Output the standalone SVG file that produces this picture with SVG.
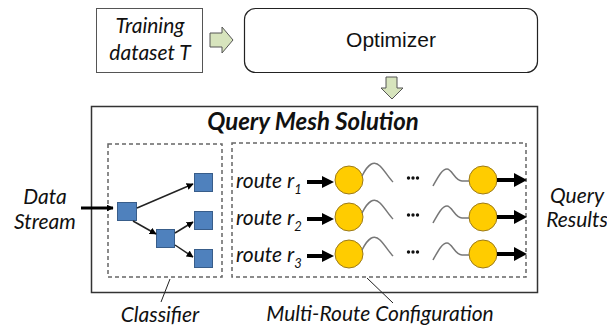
<svg xmlns="http://www.w3.org/2000/svg" width="607" height="328" viewBox="0 0 607 328">
<style>
.cal{font-family:Lato,"Liberation Sans",sans-serif;font-style:italic;fill:#111}
.arial{font-family:"Liberation Sans",Arial,sans-serif;fill:#111}
.dash{fill:none;stroke:#666;stroke-width:1.5;stroke-dasharray:4,3}
.sq{fill:#4f81bd;stroke:#385d8a;stroke-width:1}
.cir{fill:#ffcc00;stroke:#9c7a1a;stroke-width:1}
.wave{fill:none;stroke:#777;stroke-width:1.5}
.thin{stroke:#222;stroke-width:1.5;fill:none}
.thick{stroke:#000;stroke-width:4;fill:none}
.hollow{fill:#d7e4bd;stroke:#555;stroke-width:1}
</style>
<defs>
<marker id="ah" viewBox="0 0 10 10" refX="9" refY="5" markerWidth="7" markerHeight="7" markerUnits="userSpaceOnUse" orient="auto"><path d="M0,0 L10,5 L0,10 z" fill="#000"/></marker>
</defs>
<rect width="607" height="328" fill="#fff"/>
<g id="training">
<rect x="96.5" y="8.5" width="106" height="64" fill="#fff" stroke="#555" stroke-width="1"/>
<text class="cal" x="150" y="33" font-size="21" text-anchor="middle">Training</text>
<text class="cal" x="150" y="60" font-size="21" text-anchor="middle">dataset T</text>
</g>
<g id="optimizer">
<rect x="244.5" y="8.5" width="293" height="64" rx="11" fill="#fff" stroke="#222" stroke-width="1.2"/>
<text class="arial" x="391" y="47" font-size="21" text-anchor="middle">Optimizer</text>
</g>
<g id="solution">
<rect x="91.5" y="106.5" width="446" height="186" fill="#fff" stroke="#333" stroke-width="1.5"/>
<text class="cal" x="313" y="130" font-size="24" font-weight="bold" text-anchor="middle">Query Mesh Solution</text>
</g>
<g id="classifier">
<rect class="dash" x="108" y="144" width="114" height="133"/>
<rect class="sq" x="117.5" y="202.5" width="19" height="18"/>
<rect class="sq" x="194.5" y="173.5" width="18" height="18"/>
<rect class="sq" x="156.5" y="229.5" width="18" height="18"/>
<rect class="sq" x="194.5" y="211.5" width="18" height="18"/>
<rect class="sq" x="194.5" y="249.5" width="18" height="18"/>
</g>
<g id="routes">
<rect class="dash" x="232" y="143" width="294" height="134"/>
<text class="cal" x="236" y="188" font-size="21">route r<tspan font-size="13" dy="6">1</tspan></text>
<text class="cal" x="236" y="225" font-size="21">route r<tspan font-size="13" dy="6">2</tspan></text>
<text class="cal" x="236" y="262" font-size="21">route r<tspan font-size="13" dy="6">3</tspan></text>
<circle class="cir" cx="349" cy="180" r="14"/>
<circle class="cir" cx="349" cy="217" r="14"/>
<circle class="cir" cx="349" cy="254" r="14"/>
<circle class="cir" cx="483" cy="180" r="14"/>
<circle class="cir" cx="483" cy="217" r="14"/>
<circle class="cir" cx="483" cy="254" r="14"/>
<path class="wave" d="M362,176 C368,164 374,160 380,166 C385,171 389,178 393,182 M433,186 C438,177 442,169 447,169 C452,169 455,181 462,181 L469,181"/>
<path class="wave" d="M362,213 C368,201 374,197 380,203 C385,208 389,215 393,219 M433,223 C438,214 442,206 447,206 C452,206 455,218 462,218 L469,218"/>
<path class="wave" d="M362,250 C368,238 374,234 380,240 C385,245 389,252 393,256 M433,260 C438,251 442,243 447,243 C452,243 455,255 462,255 L469,255"/>
<g fill="#111">
<circle cx="408.5" cy="178" r="1.7"/><circle cx="413" cy="178" r="1.7"/><circle cx="417.5" cy="178" r="1.7"/>
<circle cx="408.5" cy="215" r="1.7"/><circle cx="413" cy="215" r="1.7"/><circle cx="417.5" cy="215" r="1.7"/>
<circle cx="408.5" cy="252" r="1.7"/><circle cx="413" cy="252" r="1.7"/><circle cx="417.5" cy="252" r="1.7"/>
</g>
</g>
<g id="labels">
<text class="cal" x="45" y="204" font-size="21" text-anchor="middle">Data</text>
<text class="cal" x="45" y="229" font-size="21" text-anchor="middle">Stream</text>
<text class="cal" x="577" y="203" font-size="21" text-anchor="middle">Query</text>
<text class="cal" x="577" y="227" font-size="21" text-anchor="middle">Results</text>
<text class="cal" x="160" y="322" font-size="21" text-anchor="middle">Classifier</text>
<text class="cal" x="380" y="321" font-size="21" text-anchor="middle">Multi-Route Configuration</text>
</g>
<g id="connectors">
<path class="hollow" d="M210,33 L222,33 L222,27 L233,40 L222,53 L222,47 L210,47 Z"/>
<path class="hollow" d="M386,77 L397,77 L397,88 L403,88 L392,99 L381,88 L386,88 Z"/>
<line x1="81" y1="208" x2="113" y2="208" stroke="#000" stroke-width="3" marker-end="url(#ah)"/>
<line class="thin" x1="137" y1="208" x2="193" y2="184" marker-end="url(#ah)"/>
<line class="thin" x1="133" y1="221" x2="156" y2="234" marker-end="url(#ah)"/>
<line class="thin" x1="175" y1="233" x2="193" y2="222" marker-end="url(#ah)"/>
<line class="thin" x1="175" y1="245" x2="193" y2="257" marker-end="url(#ah)"/>
<path d="M307,182 L324,182" class="thick"/><path d="M322,176 L334,182 L322,188 Z"/>
<path d="M307,219 L324,219" class="thick"/><path d="M322,213 L334,219 L322,225 Z"/>
<path d="M307,256 L324,256" class="thick"/><path d="M322,250 L334,256 L322,262 Z"/>
<path d="M497,180 L516,180" class="thick"/><path d="M514,173 L527,180 L514,187 Z"/>
<path d="M497,217 L516,217" class="thick"/><path d="M514,210 L527,217 L514,224 Z"/>
<path d="M497,254 L516,254" class="thick"/><path d="M514,247 L527,254 L514,261 Z"/>
<line x1="170" y1="279" x2="161" y2="302" stroke="#222" stroke-width="1"/>
<line x1="367" y1="278" x2="393" y2="303" stroke="#222" stroke-width="1"/>
</g>
</svg>
